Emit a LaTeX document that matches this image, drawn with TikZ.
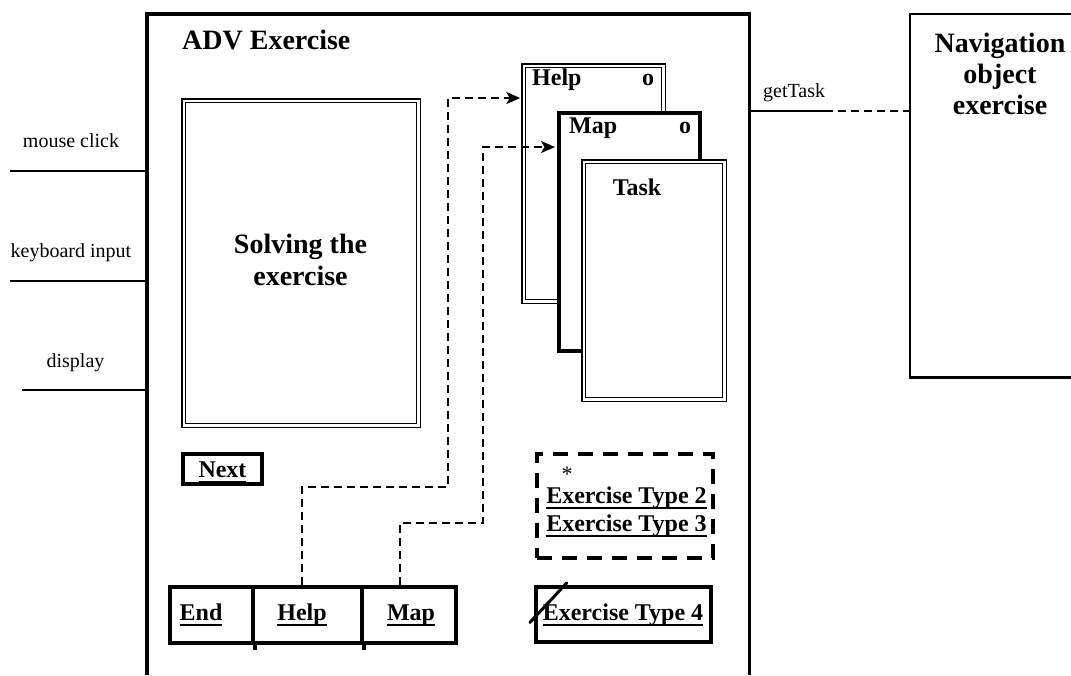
\documentclass[tikz,border=0pt]{standalone}
\usepackage{fontspec}
\setmainfont{Liberation Serif}
\usetikzlibrary{arrows.meta}
\newsavebox\ulbox
\newcommand\ulx[1]{\sbox\ulbox{#1}\rlap{\rule[-5.5pt]{\wd\ulbox}{1.9pt}}\usebox\ulbox}
\begin{document}
\begin{tikzpicture}[x=1pt,y=-1pt,
  frameline/.style={line width=3.4pt},
  thinline/.style={line width=1.8pt},
  dblbox/.style={draw, line width=1.5pt, double=white, double distance=2.4pt, fill=white, inner sep=0},
  thickbox/.style={draw, line width=3.7pt, fill=white, inner sep=0},
  conn/.style={line width=1.9pt, dash pattern=on 8pt off 5pt, -{Stealth[length=14pt,width=12pt,inset=3.5pt]}},
  plainlbl/.style={font=\fontsize{20}{24}\selectfont, inner sep=0, anchor=base},
  bigbold/.style={font=\fontsize{28}{32}\selectfont\bfseries, inner sep=0, align=center},
  btnlbl/.style={font=\fontsize{24}{28}\selectfont\bfseries, inner sep=0, anchor=base},
]
\useasboundingbox (0,0) rectangle (1071,675);

% ADV exercise frame
\node[inner sep=0, minimum width=602, minimum height=661, anchor=north west] (adv) at (147,14) {};
\draw[frameline] (adv.south west) -- (adv.north west) -- (adv.north east) -- (adv.south east);
\node[bigbold, anchor=base west] (advtitle) at (182,49) {ADV Exercise};

% inputs on the left
\node[plainlbl] (lmouse) at (71,147) {mouse click};
\coordinate (mouse) at (10,171);
\draw[thinline] (mouse) -- (mouse -| adv.west);
\node[plainlbl] (lkey) at (71,257) {keyboard input};
\coordinate (key) at (10,281);
\draw[thinline] (key) -- (key -| adv.west);
\node[plainlbl] (ldisp) at (75.5,367) {display};
\coordinate (disp) at (22,390);
\draw[thinline] (disp) -- (disp -| adv.west);

% navigation object
\node[inner sep=0, minimum width=161, minimum height=363, anchor=north west] (nav) at (910,14) {};
\draw[line width=2.5pt] (nav.north east) -- (nav.north west) -- (nav.south west) -- (nav.south east);
\node[bigbold, font=\fontsize{28}{31}\selectfont\bfseries] (navtext) at (1000,73.5) {Navigation\\object\\exercise};

% getTask
\coordinate (gt) at (825,111);
\node[plainlbl, anchor=base west] (lgt) at (763,97) {getTask};
\draw[line width=1.5pt] (adv.east |- gt) -- (gt);
\draw[line width=1.8pt, dash pattern=on 8pt off 5pt] (gt) -- (nav.west |- gt);

% solving the exercise
\node[dblbox, minimum width=234.6, minimum height=324.6] (solve) at (301,263) {};
\node[bigbold] (solvetext) at (300.5,260) {Solving the\\exercise};

% cards
\node[dblbox, minimum width=139.6, minimum height=235.6] (chelp) at (593.5,183.5) {};
\node[btnlbl, anchor=base west] (tchelp) at (532,85) {Help};
\node[btnlbl] (ochelp) at (648,85) {o};
\node[thickbox, minimum width=141.6, minimum height=238.6] (cmap) at (629.5,232) {};
\node[btnlbl, anchor=base west] (tcmap) at (569,133) {Map};
\node[btnlbl] (ocmap) at (685,133) {o};
\node[dblbox, minimum width=140.6, minimum height=237.6] (ctask) at (654,280.5) {};
\node[btnlbl] (tctask) at (637,195) {Task};

% Next button
\node[thickbox, minimum width=79.6, minimum height=30.6] (next) at (222.5,469) {};
\node[btnlbl] (tnext) at (222.5,477) {\ulx{Next}};

% bottom buttons
\node[thickbox, minimum width=83.3, minimum height=56.6] (bend) at (211.35,615) {};
\node[thickbox, minimum width=109, minimum height=56.6] (bhelp) at (307.5,615) {};
\node[thickbox, minimum width=94.3, minimum height=56.6] (bmap) at (409.15,615) {};
\draw[line width=3.4pt] (bend.south east) -- ++(0,5);
\draw[line width=3.4pt] (bhelp.south east) -- ++(0,5);
\node[btnlbl] (tend) at (201,620) {\ulx{End}};
\node[btnlbl] (tbhelp) at (302,620) {\ulx{Help}};
\node[btnlbl] (tbmap) at (411,620) {\ulx{Map}};

% connectors
\draw[conn] ([xshift=-5.5pt]bhelp.north) |- (448,487) |- ([xshift=-2.7pt]chelp.west |- 0,98);
\draw[conn] ([xshift=-9pt]bmap.north) |- (483,523) |- ([xshift=-1.8pt]cmap.west |- 0,147);

% exercise types
\node[draw, line width=4pt, dash pattern=on 15pt off 10pt, minimum width=176, minimum height=104, inner sep=0] (extypes) at (625,506) {};
\node[plainlbl, font=\fontsize{22}{26}\selectfont] (star) at (567,481) {*};
\node[btnlbl] (ex2) at (626.5,503) {\ulx{Exercise Type 2}};
\node[btnlbl] (ex3) at (626.5,531) {\ulx{Exercise Type 3}};
\node[thickbox, minimum width=175.6, minimum height=55.6] (ex4) at (623.5,614.5) {};
\node[btnlbl] (tex4) at (623,620) {\ulx{Exercise Type 4}};
\draw[line width=3pt, line cap=round] ([shift={(-4,8)}]ex4.west) -- ([shift={(33,-2)}]ex4.north west);
\end{tikzpicture}
\end{document}
